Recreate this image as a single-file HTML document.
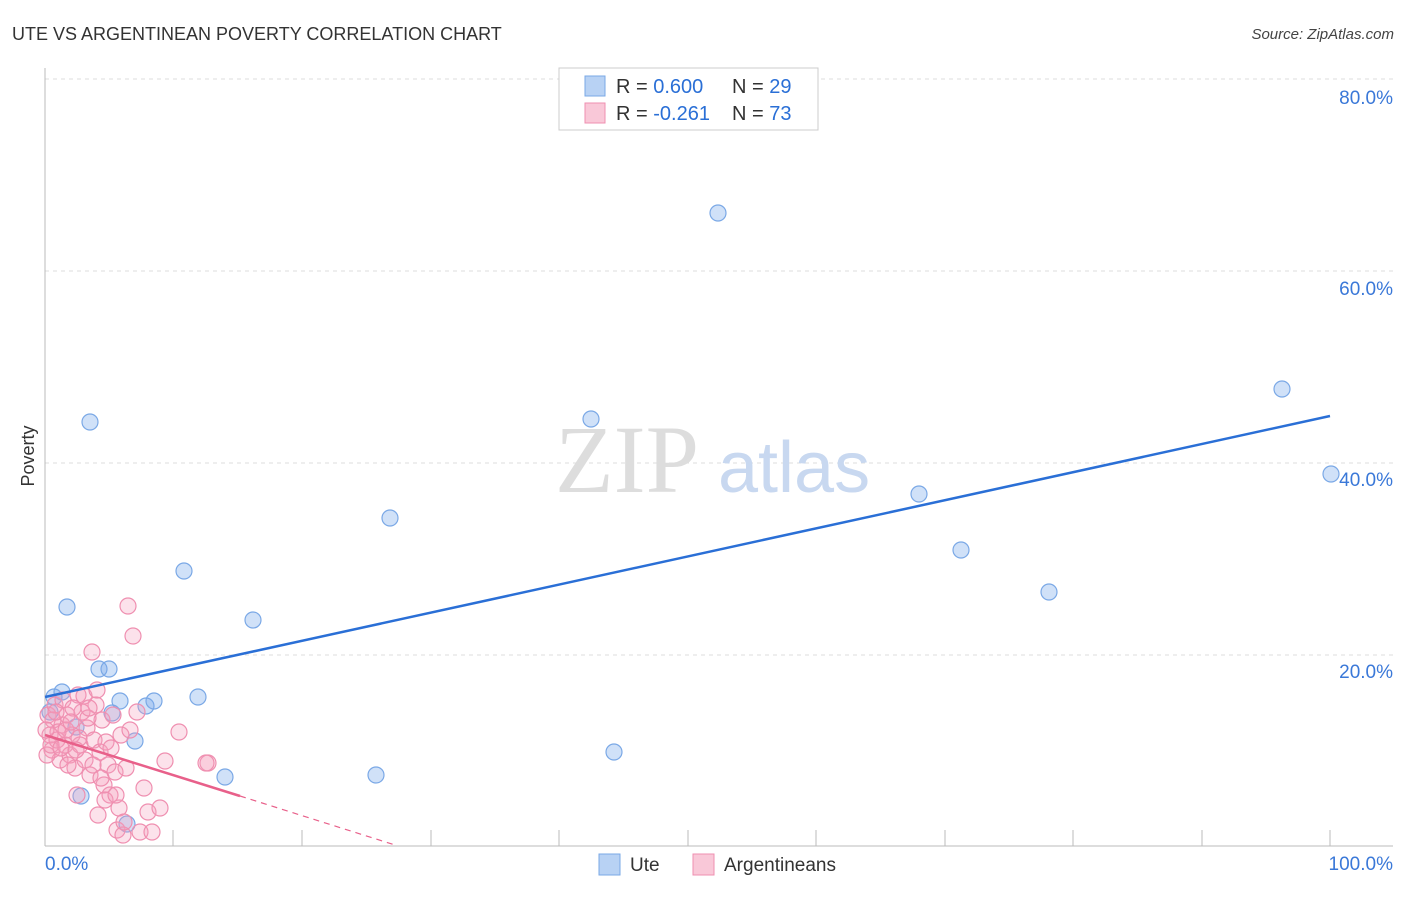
<!DOCTYPE html>
<html><head><meta charset="utf-8"><style>
body{margin:0;background:#fff;font-family:"Liberation Sans",sans-serif;}
</style></head><body>
<svg width="1406" height="892" xmlns="http://www.w3.org/2000/svg" font-family="Liberation Sans, sans-serif">
<rect width="1406" height="892" fill="#fff"/>
<text x="12" y="40" font-size="18" fill="#333">UTE VS ARGENTINEAN POVERTY CORRELATION CHART</text>
<text x="1394" y="39" font-size="15" fill="#444" text-anchor="end" font-style="italic">Source: ZipAtlas.com</text>
<g stroke="#ddd" stroke-dasharray="4,4" stroke-width="1">
<line x1="45" y1="79" x2="1393" y2="79"/><line x1="45" y1="271" x2="1393" y2="271"/>
<line x1="45" y1="463" x2="1393" y2="463"/><line x1="45" y1="655" x2="1393" y2="655"/>
</g>
<line x1="45" y1="68" x2="45" y2="846" stroke="#bbb"/>
<line x1="45" y1="846" x2="1393" y2="846" stroke="#bbb"/>
<g stroke="#bbb">
<line x1="173" y1="830" x2="173" y2="846"/><line x1="302" y1="830" x2="302" y2="846"/><line x1="431" y1="830" x2="431" y2="846"/><line x1="559" y1="830" x2="559" y2="846"/><line x1="688" y1="830" x2="688" y2="846"/><line x1="816" y1="830" x2="816" y2="846"/><line x1="945" y1="830" x2="945" y2="846"/><line x1="1073" y1="830" x2="1073" y2="846"/><line x1="1202" y1="830" x2="1202" y2="846"/><line x1="1330" y1="830" x2="1330" y2="846"/>
</g>
<g font-size="19" fill="#3a78d8" text-anchor="end">
<text x="1393" y="104">80.0%</text><text x="1393" y="295">60.0%</text><text x="1393" y="486">40.0%</text><text x="1393" y="678">20.0%</text>
</g>
<text x="45" y="870" font-size="19" fill="#3a78d8">0.0%</text>
<text x="1393" y="870" font-size="19" fill="#3a78d8" text-anchor="end">100.0%</text>
<text x="34" y="456" font-size="18" fill="#333" transform="rotate(-90 34 456)" text-anchor="middle">Poverty</text>
<text x="555" y="492" font-size="96" fill="#ddd" font-family="Liberation Serif, serif">ZIP</text>
<text x="718" y="492" font-size="72" fill="#c8d8f0">atlas</text>
<g fill="rgba(120,170,235,0.35)" stroke="#7aa8e6" stroke-width="1.2">
<circle cx="54" cy="697" r="8"/><circle cx="62" cy="692" r="8"/><circle cx="67" cy="607" r="8"/><circle cx="90" cy="422" r="8"/><circle cx="99" cy="669" r="8"/><circle cx="109" cy="669" r="8"/><circle cx="112" cy="713" r="8"/><circle cx="120" cy="701" r="8"/><circle cx="127" cy="824" r="8"/><circle cx="135" cy="741" r="8"/><circle cx="146" cy="706" r="8"/><circle cx="154" cy="701" r="8"/><circle cx="184" cy="571" r="8"/><circle cx="198" cy="697" r="8"/><circle cx="225" cy="777" r="8"/><circle cx="253" cy="620" r="8"/><circle cx="376" cy="775" r="8"/><circle cx="390" cy="518" r="8"/><circle cx="591" cy="419" r="8"/><circle cx="614" cy="752" r="8"/><circle cx="718" cy="213" r="8"/><circle cx="919" cy="494" r="8"/><circle cx="961" cy="550" r="8"/><circle cx="1049" cy="592" r="8"/><circle cx="1282" cy="389" r="8"/><circle cx="1331" cy="474" r="8"/><circle cx="81" cy="796" r="8"/><circle cx="50" cy="712" r="8"/><circle cx="76" cy="727" r="8"/>
</g>
<g fill="rgba(245,160,190,0.3)" stroke="#ef8fb0" stroke-width="1.2">
<circle cx="48" cy="715" r="8"/><circle cx="50" cy="735" r="8"/><circle cx="52" cy="750" r="8"/><circle cx="55" cy="705" r="8"/><circle cx="57" cy="740" r="8"/><circle cx="60" cy="760" r="8"/><circle cx="62" cy="725" r="8"/><circle cx="65" cy="745" r="8"/><circle cx="67" cy="715" r="8"/><circle cx="70" cy="755" r="8"/><circle cx="72" cy="735" r="8"/><circle cx="75" cy="768" r="8"/><circle cx="77" cy="795" r="8"/><circle cx="78" cy="695" r="8"/><circle cx="80" cy="745" r="8"/><circle cx="82" cy="712" r="8"/><circle cx="85" cy="760" r="8"/><circle cx="87" cy="728" r="8"/><circle cx="90" cy="775" r="8"/><circle cx="92" cy="652" r="8"/><circle cx="94" cy="740" r="8"/><circle cx="96" cy="705" r="8"/><circle cx="98" cy="815" r="8"/><circle cx="100" cy="752" r="8"/><circle cx="102" cy="720" r="8"/><circle cx="104" cy="785" r="8"/><circle cx="106" cy="742" r="8"/><circle cx="108" cy="765" r="8"/><circle cx="110" cy="795" r="8"/><circle cx="113" cy="715" r="8"/><circle cx="115" cy="772" r="8"/><circle cx="117" cy="830" r="8"/><circle cx="119" cy="808" r="8"/><circle cx="121" cy="735" r="8"/><circle cx="123" cy="835" r="8"/><circle cx="126" cy="768" r="8"/><circle cx="128" cy="606" r="8"/><circle cx="130" cy="730" r="8"/><circle cx="133" cy="636" r="8"/><circle cx="137" cy="712" r="8"/><circle cx="140" cy="832" r="8"/><circle cx="144" cy="788" r="8"/><circle cx="148" cy="812" r="8"/><circle cx="152" cy="832" r="8"/><circle cx="160" cy="808" r="8"/><circle cx="165" cy="761" r="8"/><circle cx="179" cy="732" r="8"/><circle cx="208" cy="763" r="8"/><circle cx="47" cy="755" r="8"/><circle cx="53" cy="720" r="8"/><circle cx="58" cy="732" r="8"/><circle cx="63" cy="700" r="8"/><circle cx="68" cy="765" r="8"/><circle cx="73" cy="708" r="8"/><circle cx="79" cy="738" r="8"/><circle cx="84" cy="696" r="8"/><circle cx="88" cy="718" r="8"/><circle cx="93" cy="765" r="8"/><circle cx="97" cy="690" r="8"/><circle cx="101" cy="778" r="8"/><circle cx="105" cy="800" r="8"/><circle cx="111" cy="748" r="8"/><circle cx="116" cy="795" r="8"/><circle cx="124" cy="822" r="8"/><circle cx="46" cy="730" r="8"/><circle cx="51" cy="745" r="8"/><circle cx="56" cy="712" r="8"/><circle cx="61" cy="748" r="8"/><circle cx="66" cy="730" r="8"/><circle cx="71" cy="722" r="8"/><circle cx="76" cy="750" r="8"/><circle cx="206" cy="763" r="8"/><circle cx="89" cy="708" r="8"/>
</g>
<line x1="45" y1="697" x2="1330" y2="416" stroke="#2a6fd6" stroke-width="2.5"/>
<line x1="45" y1="735" x2="240" y2="796" stroke="#e8608a" stroke-width="2.5"/>
<line x1="240" y1="796" x2="395" y2="845" stroke="#e8608a" stroke-width="1.2" stroke-dasharray="6,5"/>
<rect x="559" y="68" width="259" height="62" fill="#fff" stroke="#ccc"/>
<rect x="585" y="76" width="20" height="20" fill="#b8d2f4" stroke="#7aa8e6"/>
<rect x="585" y="103" width="20" height="20" fill="#f9c8d8" stroke="#ef8fb0"/>
<g font-size="20">
<text x="616" y="93" fill="#333">R = <tspan fill="#2a6fd6">0.600</tspan></text>
<text x="732" y="93" fill="#333">N = <tspan fill="#2a6fd6">29</tspan></text>
<text x="616" y="120" fill="#333">R = <tspan fill="#2a6fd6">-0.261</tspan></text>
<text x="732" y="120" fill="#333">N = <tspan fill="#2a6fd6">73</tspan></text>
</g>
<rect x="599" y="854" width="21" height="21" fill="#b8d2f4" stroke="#7aa8e6"/>
<text x="630" y="871" font-size="19" fill="#333">Ute</text>
<rect x="693" y="854" width="21" height="21" fill="#f9c8d8" stroke="#ef8fb0"/>
<text x="724" y="871" font-size="19" fill="#333">Argentineans</text>
</svg>
</body></html>
